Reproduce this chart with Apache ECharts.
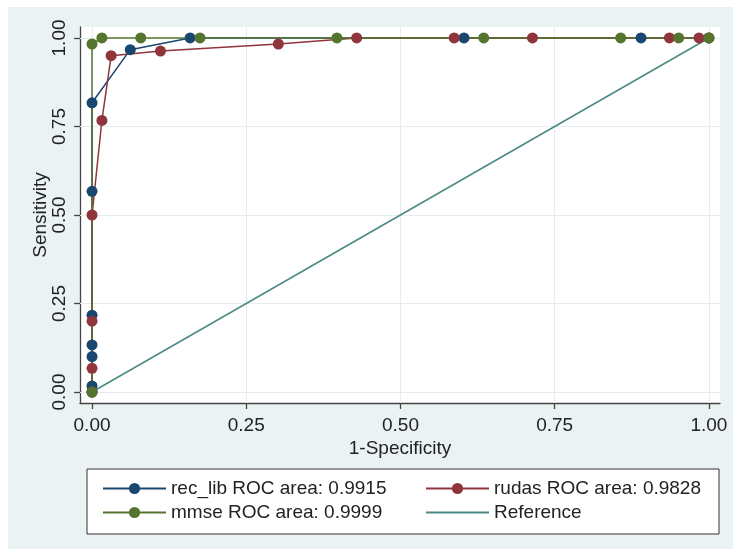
<!DOCTYPE html>
<html>
<head>
<meta charset="utf-8">
<script src="https://cdn.jsdelivr.net/npm/echarts@6/dist/echarts.min.js"></script>
<style>
  html, body { margin: 0; padding: 0; background: #fff; }
  #chart { position: absolute; left: 8px; top: 7px; width: 725px; height: 542px; }
</style>
</head>
<body>
<div id="chart"></div>
<script>
// ROC 曲线数据 (1-特异度, 灵敏度)
const recLibX = [0, 0, 0, 0, 0, 0, 0, 0.062, 0.159, 0.603, 0.890, 1]
const recLibY = [0, 0.017, 0.100, 0.133, 0.217, 0.567, 0.817, 0.967, 1, 1, 1, 1]

const rudasX = [0, 0, 0, 0, 0.016, 0.031, 0.111, 0.302, 0.429, 0.587, 0.714, 0.936, 0.984, 1]
const rudasY = [0, 0.067, 0.200, 0.500, 0.767, 0.950, 0.963, 0.983, 1, 1, 1, 1, 1, 1]

const mmseX = [0, 0, 0.016, 0.079, 0.175, 0.397, 0.635, 0.857, 0.951, 1]
const mmseY = [0, 0.983, 1, 1, 1, 1, 1, 1, 1, 1]

const refX = [0, 1]
const refY = [0, 1]

const seriesNames = ['rec_lib ROC area: 0.9915', 'rudas ROC area: 0.9828', 'mmse ROC area: 0.9999', 'Reference']
const tickValues = [0, 0.25, 0.5, 0.75, 1]

const zip = (xs, ys) => xs.map((x, i) => [x, ys[i]])

const font = 'Liberation Sans, Arial, sans-serif'
const textColor = '#222'
const gridColor = '#e4edf0'

const chart = echarts.init(document.getElementById('chart'))

const rocSeries = (name, data, color, withSymbol) => ({
  name,
  type: 'line',
  data,
  symbol: withSymbol ? 'circle' : 'none',
  symbolSize: 11,
  showAllSymbol: true,
  lineStyle: { color, width: 1.5 },
  itemStyle: { color },
  emphasis: { disabled: true },
  z: 2,
})

const legendBase = {
  orient: 'vertical',
  top: 467,
  itemWidth: 63,
  itemHeight: 14,
  itemGap: 5,
  textStyle: { fontFamily: font, fontSize: 19, lineHeight: 19, color: textColor, padding: [0, 0, 0, 0] },
  selectedMode: false,
}

const option = {
  backgroundColor: '#eaf2f3',
  animation: false,
  grid: {
    left: 72,
    top: 20,
    width: 640,
    height: 376,
    show: true,
    backgroundColor: '#fff',
    borderWidth: 0,
  },
  xAxis: {
    type: 'value',
    min: -0.0195,
    max: 1.018,
    name: '1-Specificity',
    nameLocation: 'middle',
    nameGap: 36,
    nameMoveOverlap: false,
    nameTextStyle: { fontFamily: font, fontSize: 19, color: textColor },
    axisLine: { show: true, onZero: false, lineStyle: { color: '#444', width: 1.3 } },
    axisTick: { show: true, length: 6, customValues: tickValues, lineStyle: { color: '#444', width: 1.3 } },
    axisLabel: {
      customValues: tickValues,
      formatter: (v) => v.toFixed(2),
      fontFamily: font,
      fontSize: 19,
      color: textColor,
      margin: 13,
    },
    splitLine: { show: false },
  },
  yAxis: {
    type: 'value',
    min: -0.031,
    max: 1.031,
    name: 'Sensitivity',
    nameLocation: 'middle',
    nameGap: 30,
    nameMoveOverlap: false,
    nameTextStyle: { fontFamily: font, fontSize: 19, color: textColor },
    axisLine: { show: true, onZero: false, lineStyle: { color: '#444', width: 1.3 } },
    axisTick: { show: true, length: 6, customValues: tickValues, lineStyle: { color: '#444', width: 1.3 } },
    axisLabel: {
      customValues: tickValues,
      formatter: (v) => v.toFixed(2),
      rotate: 90,
      fontFamily: font,
      fontSize: 19,
      color: textColor,
      margin: 11,
    },
    splitLine: { show: false },
  },
  legend: [
    {
      ...legendBase,
      left: 89,
      data: [seriesNames[0], seriesNames[2]],
    },
    {
      ...legendBase,
      left: 412,
      data: [
        seriesNames[1],
        // 参考线图例不显示标记点
        { name: seriesNames[3], itemStyle: { color: 'rgba(0,0,0,0)', borderWidth: 0 } },
      ],
    },
  ],
  graphic: [
    {
      type: 'rect',
      shape: { x: 79, y: 462, width: 632, height: 65 },
      style: { fill: '#fff', stroke: '#333', lineWidth: 1 },
      z: 0,
      silent: true,
    },
  ],
  series: [
    // 网格线
    {
      type: 'line',
      data: [],
      silent: true,
      z: 1,
      markLine: {
        silent: true,
        symbol: 'none',
        label: { show: false },
        z: 1,
        lineStyle: { color: gridColor, width: 1, type: 'solid' },
        emphasis: { disabled: true },
        data: [
          ...tickValues.map((v) => ({ xAxis: v })),
          ...tickValues.map((v) => ({ yAxis: v })),
        ],
      },
    },
    rocSeries(seriesNames[0], zip(recLibX, recLibY), '#1a476f', true),
    rocSeries(seriesNames[1], zip(rudasX, rudasY), '#90353b', true),
    rocSeries(seriesNames[2], zip(mmseX, mmseY), '#55752f', true),
    rocSeries(seriesNames[3], zip(refX, refY), '#4a8a84', false),
  ],
}

chart.setOption(option)
</script>
</body>
</html>
